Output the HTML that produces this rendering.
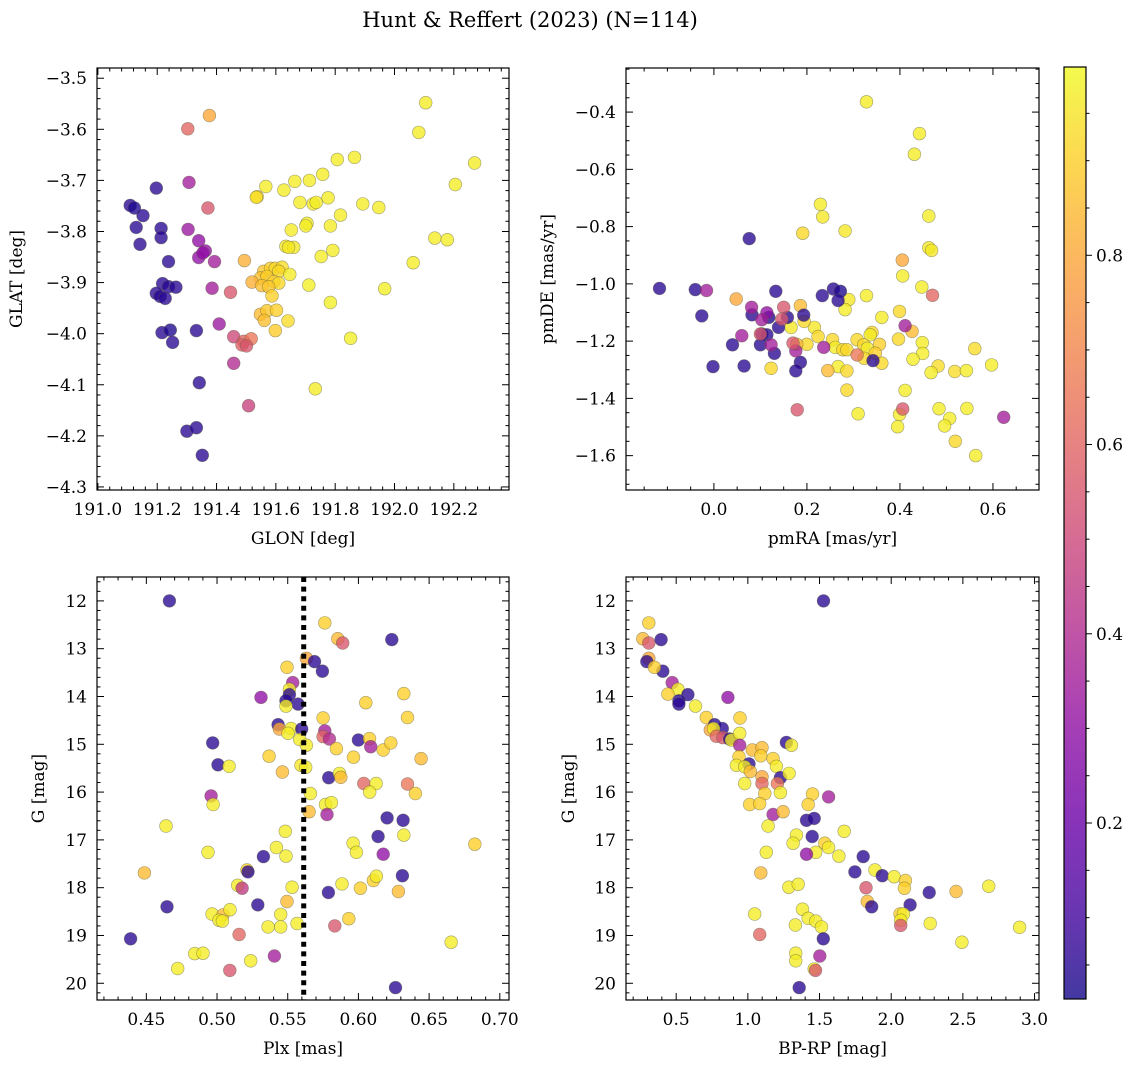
<!DOCTYPE html>
<html><head><meta charset="utf-8"><title>Hunt & Reffert (2023)</title>
<style>
html,body{margin:0;padding:0;background:#fff;}
svg{display:block;font-family:"DejaVu Serif","Liberation Serif",serif;}
</style></head>
<body>
<svg id="fig" width="1136" height="1067" viewBox="0 0 1136 1067" xmlns="http://www.w3.org/2000/svg">
<text x="530" y="27" text-anchor="middle" font-size="21">Hunt &amp; Reffert (2023) (N=114)</text>
</svg>
<script>
// ---------- Panel 1: GLON / GLAT ----------
const p1Glon = [192.105,192.082,192.270,192.205,191.807,191.865,191.758,191.713,191.664,191.627,191.566,191.537,191.534,191.681,191.726,191.736,191.776,191.893,191.947,191.818,191.784,191.705,191.701,191.652,191.634,191.660,191.643,191.792,191.753,192.136,192.178,192.063,191.494,191.559,191.582,191.598,191.621,191.610,191.647,191.548,191.570,191.593,191.610,191.520,191.553,191.576,191.587,191.711,191.967,191.784,191.548,191.570,191.602,191.561,191.641,191.598,191.852,191.733,
191.376,191.303,191.307,191.371,191.304,191.340,191.362,191.340,191.354,191.393,191.385,191.447,191.409,191.458,191.492,191.517,191.486,191.501,191.458,191.508,
191.197,191.109,191.123,191.152,191.129,191.213,191.213,191.142,191.238,191.218,191.238,191.263,191.197,191.210,191.227,191.216,191.244,191.252,191.332,191.342,191.300,191.332,191.352];
const p1Glat = [-3.548,-3.606,-3.666,-3.708,-3.659,-3.655,-3.688,-3.700,-3.702,-3.719,-3.712,-3.732,-3.733,-3.743,-3.746,-3.743,-3.734,-3.746,-3.753,-3.768,-3.789,-3.784,-3.789,-3.797,-3.829,-3.831,-3.831,-3.837,-3.849,-3.813,-3.816,-3.861,-3.857,-3.878,-3.872,-3.872,-3.870,-3.878,-3.884,-3.891,-3.888,-3.898,-3.901,-3.899,-3.906,-3.908,-3.926,-3.905,-3.912,-3.939,-3.962,-3.955,-3.954,-3.974,-3.975,-3.994,-4.009,-4.108,
-3.573,-3.599,-3.704,-3.754,-3.796,-3.818,-3.838,-3.851,-3.842,-3.859,-3.911,-3.919,-3.981,-4.006,-4.015,-4.010,-4.022,-4.024,-4.058,-4.141,
-3.715,-3.749,-3.754,-3.769,-3.792,-3.794,-3.812,-3.825,-3.859,-3.902,-3.908,-3.909,-3.921,-3.927,-3.931,-3.998,-3.993,-4.017,-3.994,-4.096,-4.191,-4.184,-4.238];
const p1Prob = [0.97,0.97,0.97,0.97,0.97,0.97,0.97,0.97,0.97,0.97,0.97,0.92,0.94,0.97,0.97,0.97,0.97,0.97,0.97,0.97,0.97,0.97,0.97,0.97,0.96,0.96,0.96,0.97,0.97,0.97,0.97,0.97,0.82,0.88,0.9,0.92,0.93,0.92,0.97,0.87,0.9,0.9,0.92,0.82,0.86,0.88,0.9,0.98,0.98,0.98,0.85,0.88,0.9,0.86,0.93,0.89,0.98,0.97,
0.8,0.6,0.35,0.55,0.33,0.3,0.3,0.3,0.3,0.35,0.35,0.55,0.33,0.5,0.6,0.65,0.58,0.55,0.4,0.48,
0.05,0.05,0.03,0.05,0.05,0.05,0.05,0.05,0.05,0.05,0.05,0.05,0.05,0.05,0.05,0.05,0.03,0.05,0.05,0.05,0.05,0.05,0.05];

// ---------- Panel 2: pmRA / pmDE ----------
const p2PmRA = [0.328,0.442,0.431,0.229,0.234,0.191,0.282,0.462,0.462,0.468,0.405,0.406,0.447,0.328,0.290,0.282,0.361,0.399,0.340,0.336,0.216,0.166,0.224,0.200,0.255,0.261,0.277,0.286,0.308,0.322,0.330,0.356,0.347,0.323,0.361,0.397,0.426,0.448,0.449,0.428,0.482,0.467,0.518,0.543,0.597,0.561,0.411,0.484,0.507,0.496,0.544,0.519,0.563,0.310,0.399,0.395,0.267,0.286,0.245,0.123,0.286,0.194,0.186,0.048,0.178,
0.076,-0.117,-0.040,-0.026,0.133,0.233,0.257,0.272,0.267,0.082,0.118,0.139,0.103,0.114,0.100,0.040,0.130,-0.002,0.065,0.186,0.176,0.193,0.158,0.342,
-0.016,0.081,0.114,0.103,0.060,0.123,0.176,0.236,0.170,0.150,0.146,0.100,0.470,0.411,0.179,0.406,0.623,0.308];
const p2PmDE = [-0.364,-0.475,-0.547,-0.722,-0.766,-0.823,-0.815,-0.763,-0.874,-0.883,-0.917,-0.972,-1.011,-1.041,-1.055,-1.090,-1.117,-1.096,-1.170,-1.178,-1.152,-1.152,-1.184,-1.211,-1.195,-1.222,-1.230,-1.230,-1.195,-1.213,-1.225,-1.211,-1.242,-1.260,-1.277,-1.193,-1.166,-1.205,-1.243,-1.263,-1.287,-1.310,-1.306,-1.303,-1.283,-1.226,-1.372,-1.436,-1.470,-1.496,-1.435,-1.550,-1.600,-1.454,-1.456,-1.499,-1.289,-1.304,-1.303,-1.295,-1.371,-1.131,-1.076,-1.053,-1.211,
-0.842,-1.016,-1.020,-1.112,-1.026,-1.041,-1.018,-1.026,-1.058,-1.108,-1.117,-1.152,-1.175,-1.178,-1.213,-1.213,-1.243,-1.289,-1.287,-1.274,-1.304,-1.109,-1.117,-1.268,
-1.023,-1.082,-1.101,-1.125,-1.181,-1.213,-1.234,-1.222,-1.207,-1.082,-1.123,-1.175,-1.040,-1.146,-1.440,-1.437,-1.466,-1.248];
const p2Prob = [0.97,0.97,0.97,0.97,0.96,0.92,0.96,0.97,0.96,0.96,0.8,0.97,0.97,0.97,0.96,0.97,0.97,0.92,0.92,0.97,0.96,0.96,0.92,0.92,0.92,0.97,0.92,0.92,0.92,0.92,0.97,0.9,0.9,0.92,0.92,0.92,0.85,0.97,0.97,0.97,0.93,0.97,0.93,0.97,0.97,0.93,0.97,0.97,0.97,0.97,0.97,0.92,0.97,0.97,0.97,0.97,0.97,0.92,0.85,0.92,0.92,0.92,0.85,0.8,0.85,
0.05,0.05,0.05,0.05,0.05,0.05,0.05,0.03,0.05,0.05,0.03,0.05,0.05,0.05,0.05,0.05,0.05,0.05,0.05,0.05,0.05,0.05,0.05,0.05,
0.35,0.35,0.3,0.35,0.35,0.35,0.35,0.35,0.55,0.55,0.55,0.55,0.6,0.35,0.55,0.55,0.35,0.65];

// ---------- Panel 3: Plx / G ----------
const p3Plx = [0.4663,0.5762,0.5854,0.5889,0.6236,0.5632,0.5689,0.5745,0.5495,0.5535,0.5512,0.5512,0.5311,0.5488,0.5573,0.5488,0.6321,0.6052,0.6347,0.5750,0.5432,0.5441,0.5524,0.5502,0.5599,0.5585,0.5632,0.5762,0.5750,0.5795,0.5844,0.6000,0.6078,0.6087,0.6175,0.6229,0.5965,0.6443,0.4969,0.5007,0.5085,0.5368,0.5462,0.5594,0.5627,0.5790,0.5866,0.5875,0.6038,0.6125,0.6080,0.6347,0.6403,0.5660,0.4958,0.4972,0.5767,0.5809,0.5651,0.5778,0.6203,0.6316,0.6321,0.6139,0.6175,0.5962,0.5986,0.6823,0.4639,0.4936,0.5483,0.5420,0.5488,0.5328,0.4486,0.5212,0.5219,0.5146,0.5177,0.5531,0.5884,0.6014,0.6106,0.6127,0.6311,0.6283,0.5788,0.4646,0.5288,0.5495,0.4965,0.5042,0.5092,0.5014,0.5038,0.5450,0.5361,0.5450,0.5566,0.5932,0.5833,0.5156,0.4389,0.6656,0.4842,0.4901,0.5406,0.5238,0.4722,0.5090,0.6262];
const p3G = [12.00,12.46,12.79,12.88,12.81,13.20,13.27,13.47,13.39,13.71,13.85,13.96,14.02,14.09,14.16,14.20,13.94,14.13,14.44,14.45,14.59,14.68,14.67,14.77,14.68,14.90,15.02,14.72,14.84,14.89,15.09,14.91,14.88,15.05,15.12,14.97,15.27,15.30,14.97,15.43,15.46,15.25,15.58,15.44,15.48,15.70,15.61,15.69,15.82,15.82,16.00,15.83,16.03,16.03,16.08,16.26,16.26,16.22,16.41,16.47,16.54,16.59,16.90,16.93,17.30,17.07,17.26,17.09,16.71,17.26,16.82,17.16,17.34,17.35,17.69,17.63,17.67,17.95,18.01,17.99,17.92,18.01,17.85,17.76,17.75,18.08,18.10,18.40,18.36,18.29,18.55,18.57,18.46,18.68,18.70,18.56,18.82,18.82,18.75,18.65,18.80,18.98,19.07,19.14,19.38,19.37,19.43,19.53,19.69,19.73,20.09];
const p3Prob = [0.05,0.9,0.85,0.55,0.05,0.8,0.05,0.05,0.9,0.35,0.97,0.05,0.3,0.05,0.05,0.97,0.9,0.9,0.9,0.9,0.05,0.8,0.97,0.97,0.05,0.97,0.97,0.35,0.6,0.4,0.9,0.05,0.9,0.35,0.9,0.9,0.9,0.85,0.05,0.05,0.97,0.9,0.85,0.95,0.97,0.05,0.97,0.85,0.6,0.97,0.97,0.65,0.9,0.97,0.35,0.97,0.97,0.97,0.85,0.35,0.05,0.05,0.97,0.05,0.3,0.97,0.97,0.9,0.97,0.97,0.97,0.97,0.97,0.05,0.85,0.9,0.05,0.97,0.45,0.97,0.97,0.9,0.9,0.97,0.05,0.85,0.05,0.05,0.05,0.85,0.97,0.85,0.97,0.97,0.97,0.97,0.97,0.97,0.97,0.9,0.55,0.6,0.05,0.97,0.97,0.97,0.35,0.97,0.97,0.55,0.05];
const plxMarker = 0.5613;

// ---------- Panel 4: BP-RP / G ----------
const p4Color = [1.528,0.309,0.267,0.309,0.395,0.309,0.295,0.407,0.348,0.472,0.512,0.582,0.861,0.519,0.519,0.442,0.635,0.710,0.945,0.768,0.738,0.822,0.761,0.780,0.826,0.873,0.885,0.943,0.943,1.269,1.304,1.031,1.099,0.938,1.090,1.176,1.008,0.920,0.978,1.199,1.017,1.099,1.099,1.227,1.206,1.288,0.978,1.118,1.227,1.451,1.563,1.421,1.013,1.083,1.176,1.246,1.409,1.463,1.141,1.672,1.339,1.449,1.316,1.537,1.563,1.474,1.409,1.635,1.129,1.805,1.090,1.747,1.887,1.938,2.020,2.099,2.092,1.286,1.351,1.824,2.265,2.453,2.680,1.833,1.864,2.132,1.048,1.381,1.421,1.474,1.514,1.332,2.062,2.085,2.066,2.066,2.272,2.896,1.083,1.526,2.493,1.334,1.334,1.502,1.463,1.472,1.358];
const p4G = [12.00,12.46,12.79,12.88,12.81,13.20,13.27,13.47,13.39,13.71,13.85,13.96,14.02,14.09,14.16,13.95,14.20,14.44,14.45,14.59,14.70,14.67,14.67,14.83,14.86,14.89,14.91,14.77,15.02,14.96,15.02,15.12,15.07,15.26,15.24,15.30,15.41,15.44,15.47,15.46,15.57,15.68,15.82,15.70,15.82,15.61,15.82,16.03,16.01,16.04,16.10,16.26,16.26,16.24,16.47,16.41,16.59,16.55,16.71,16.82,16.90,16.93,17.07,17.07,17.16,17.26,17.30,17.34,17.26,17.35,17.69,17.67,17.63,17.75,17.77,17.85,18.01,17.99,17.93,18.00,18.10,18.08,17.97,18.29,18.40,18.36,18.55,18.45,18.64,18.70,18.82,18.78,18.55,18.55,18.68,18.79,18.75,18.83,18.98,19.07,19.14,19.37,19.53,19.43,19.70,19.73,20.09];
const p4Prob = [0.05,0.9,0.85,0.55,0.05,0.8,0.05,0.05,0.9,0.35,0.97,0.05,0.3,0.05,0.05,0.9,0.97,0.9,0.9,0.05,0.8,0.05,0.97,0.6,0.55,0.05,0.97,0.97,0.35,0.05,0.97,0.85,0.85,0.9,0.9,0.9,0.05,0.97,0.97,0.97,0.85,0.8,0.6,0.05,0.65,0.97,0.97,0.9,0.97,0.9,0.35,0.9,0.9,0.9,0.35,0.85,0.05,0.05,0.97,0.97,0.97,0.05,0.97,0.9,0.97,0.97,0.3,0.97,0.97,0.05,0.85,0.05,0.97,0.05,0.97,0.9,0.9,0.97,0.97,0.55,0.05,0.85,0.97,0.85,0.05,0.05,0.97,0.97,0.97,0.97,0.97,0.97,0.9,0.97,0.97,0.55,0.97,0.97,0.6,0.05,0.97,0.97,0.97,0.35,0.97,0.55,0.05];

// ---------- Colorbar ----------
const cbTicks = [0.2,0.4,0.6,0.8];

const NS = "http://www.w3.org/2000/svg";
const svg = document.getElementById('fig');
function mk(tag, attrs, parent){
  const e = document.createElementNS(NS, tag);
  for (const k in attrs) e.setAttribute(k, attrs[k]);
  (parent||svg).appendChild(e);
  return e;
}
const stops = [[13,8,135],[65,4,157],[106,0,168],[143,13,164],[177,42,144],[204,71,120],[225,100,98],[242,132,75],[252,166,54],[252,206,37],[240,249,33]];
function plasma(t){
  t = Math.max(0, Math.min(1, t));
  const f = t*10, i = Math.min(9, Math.floor(f)), r = f - i;
  const a = stops[i], b = stops[i+1];
  return 'rgb(' + [0,1,2].map(k => Math.round(a[k] + (b[k]-a[k])*r)).join(',') + ')';
}

function panel(cfg){
  const {name, x0, y0, w, h, xmin, xmax, ymin, ymax, invertY} = cfg;
  const sx = v => x0 + (v - xmin) / (xmax - xmin) * w;
  const sy = v => invertY ? y0 + (v - ymin) / (ymax - ymin) * h : y0 + h - (v - ymin) / (ymax - ymin) * h;
  const g = mk('g', {});
  
  
  const pts = mk('g', {}, g);
  
  
  for (let i = 0; i < cfg.xs.length; i++){
    const c = mk('circle', {cx: sx(cfg.xs[i]).toFixed(1), cy: sy(cfg.ys[i]).toFixed(1), r: 6.4,
      fill: plasma(cfg.cs[i]), 'fill-opacity': 0.78, stroke: 'rgba(90,90,60,0.55)', 'stroke-width': 0.6}, pts);
    
    
  }
  if (cfg.vline !== undefined){
    const l = mk('line', {x1: sx(cfg.vline), x2: sx(cfg.vline), y1: y0, y2: y0 + h, stroke: '#000', 'stroke-width': 5, 'stroke-dasharray': '5 4.6'}, g);
    
    
  }
  const fr = mk('rect', {x: x0, y: y0, width: w, height: h, fill: 'none', stroke: '#000', 'stroke-width': 1.2}, g);
  
  
  const xt = mk('g', {}, g);
  
  
  const eps = 1e-9;
  for (let v = Math.ceil(xmin / cfg.xminor - eps) * cfg.xminor; v <= xmax + eps; v += cfg.xminor){
    const X = sx(v);
    const isMaj = Math.abs(v / cfg.xmajor - Math.round(v / cfg.xmajor)) < 1e-6;
    const L = isMaj ? 7 : 3.5;
    mk('line', {x1: X, x2: X, y1: y0 + h, y2: y0 + h - L, stroke: '#000', 'stroke-width': 1}, xt);
    mk('line', {x1: X, x2: X, y1: y0, y2: y0 + L, stroke: '#000', 'stroke-width': 1}, xt);
  }
  cfg.xlabels.forEach(v => {
    const t = mk('text', {x: sx(v), y: y0 + h + 25, 'text-anchor': 'middle', 'font-size': 17}, xt);
    t.textContent = v.toFixed(cfg.xdec);
    
    
  });
  const xl = mk('text', {x: x0 + w / 2, y: y0 + h + 54, 'text-anchor': 'middle', 'font-size': 17}, g);
  xl.textContent = cfg.xtitle;
  
  
  const yt = mk('g', {}, g);
  
  
  for (let v = Math.ceil(ymin / cfg.yminor - eps) * cfg.yminor; v <= ymax + eps; v += cfg.yminor){
    const Y = sy(v);
    const isMaj = Math.abs(v / cfg.ymajor - Math.round(v / cfg.ymajor)) < 1e-6;
    const L = isMaj ? 7 : 3.5;
    mk('line', {x1: x0, x2: x0 + L, y1: Y, y2: Y, stroke: '#000', 'stroke-width': 1}, yt);
    mk('line', {x1: x0 + w, x2: x0 + w - L, y1: Y, y2: Y, stroke: '#000', 'stroke-width': 1}, yt);
  }
  cfg.ylabels.forEach(v => {
    const t = mk('text', {x: x0 - 10, y: sy(v) + 6, 'text-anchor': 'end', 'font-size': 17}, yt);
    t.textContent = v.toFixed(cfg.ydec).replace('-', '\u2212');
    
    
  });
  const yl = mk('text', {x: cfg.ytitleX, y: y0 + h / 2, 'text-anchor': 'middle', 'font-size': 17, transform: 'rotate(-90 ' + cfg.ytitleX + ' ' + (y0 + h / 2) + ')'}, g);
  yl.textContent = cfg.ytitle;
  
  
}

panel({name: 'glon-glat-panel', x0: 97, y0: 68, w: 412, h: 422, xmin: 190.997, xmax: 192.386, ymin: -4.306, ymax: -3.480,
  xs: p1Glon, ys: p1Glat, cs: p1Prob, xmajor: 0.2, xminor: 0.04, ymajor: 0.1, yminor: 0.02,
  xlabels: [191.0,191.2,191.4,191.6,191.8,192.0,192.2], xdec: 1, ylabels: [-3.5,-3.6,-3.7,-3.8,-3.9,-4.0,-4.1,-4.2,-4.3], ydec: 1,
  xtitle: 'GLON [deg]', ytitle: 'GLAT [deg]', ytitleX: 22});
panel({name: 'pm-panel', x0: 626, y0: 68, w: 413, h: 422, xmin: -0.189, xmax: 0.699, ymin: -1.72, ymax: -0.246,
  xs: p2PmRA, ys: p2PmDE, cs: p2Prob, xmajor: 0.2, xminor: 0.05, ymajor: 0.2, yminor: 0.05,
  xlabels: [0.0,0.2,0.4,0.6], xdec: 1, ylabels: [-0.4,-0.6,-0.8,-1.0,-1.2,-1.4,-1.6], ydec: 1,
  xtitle: 'pmRA [mas/yr]', ytitle: 'pmDE [mas/yr]', ytitleX: 553});
panel({name: 'plx-g-panel', x0: 97, y0: 577, w: 412, h: 423, xmin: 0.4151, xmax: 0.7065, ymin: 11.5, ymax: 20.35, invertY: true,
  xs: p3Plx, ys: p3G, cs: p3Prob, xmajor: 0.05, xminor: 0.01, ymajor: 1, yminor: 0.2, vline: plxMarker,
  xlabels: [0.45,0.50,0.55,0.60,0.65,0.70], xdec: 2, ylabels: [12,13,14,15,16,17,18,19,20], ydec: 0,
  xtitle: 'Plx [mas]', ytitle: 'G [mag]', ytitleX: 44});
panel({name: 'cmd-panel', x0: 626, y0: 577, w: 413, h: 423, xmin: 0.15, xmax: 3.031, ymin: 11.5, ymax: 20.35, invertY: true,
  xs: p4Color, ys: p4G, cs: p4Prob, xmajor: 0.5, xminor: 0.1, ymajor: 1, yminor: 0.2,
  xlabels: [0.5,1.0,1.5,2.0,2.5,3.0], xdec: 1, ylabels: [12,13,14,15,16,17,18,19,20], ydec: 0,
  xtitle: 'BP-RP [mag]', ytitle: 'G [mag]', ytitleX: 574});

(function(){
  const cx = 1064, cw = 22, ctop = 67, cbot = 999, vTop = 0.999, vBot = 0.014;
  const cy = v => ctop + (vTop - v) / (vTop - vBot) * (cbot - ctop);
  const g = mk('g', {});
  
  
  const defs = mk('defs', {}, g);
  const lg = mk('linearGradient', {id: 'cbg', x1: 0, y1: 1, x2: 0, y2: 0}, defs);
  for (let i = 0; i <= 20; i++){
    const t = i / 20;
    const v = vBot + (vTop - vBot) * t;
    mk('stop', {offset: t, 'stop-color': plasma(v), 'stop-opacity': 0.8}, lg);
  }
  mk('rect', {x: cx, y: ctop, width: cw, height: cbot - ctop, fill: 'url(#cbg)', stroke: '#000', 'stroke-width': 1.2}, g);
  for (let v = 0.05; v < 1; v += 0.05){
    const Y = cy(v);
    const maj = cbTicks.some(t => Math.abs(t - v) < 1e-6);
    mk('line', {x1: cx + cw, x2: cx + cw + (maj ? 6 : 3.5), y1: Y, y2: Y, stroke: '#000', 'stroke-width': 1}, g);
  }
  cbTicks.forEach(v => {
    const t = mk('text', {x: cx + cw + 10, y: cy(v) + 6, 'font-size': 17}, g);
    t.textContent = v.toFixed(1);
    
    
  });
})();
</script>
</body></html>
